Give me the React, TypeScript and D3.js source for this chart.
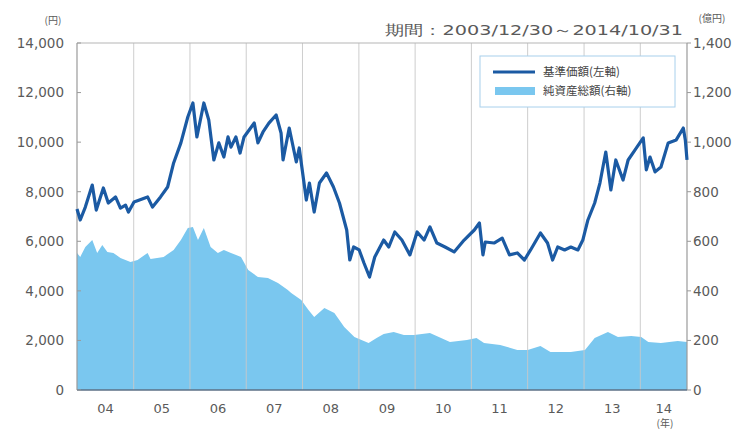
import React from "react";
import * as d3 from "d3";

const navDates = [
  "2003-12-30","2004-01-20","2004-02-22","2004-04-07","2004-05-03","2004-06-18","2004-07-20","2004-09-05","2004-10-07","2004-11-09","2004-11-28",
  "2005-01-03","2005-04-01","2005-05-03","2005-06-24","2005-08-09","2005-09-17","2005-11-03","2005-12-18",
  "2006-01-20","2006-02-15","2006-04-01","2006-05-03","2006-06-05","2006-07-07","2006-08-09","2006-09-05","2006-09-24","2006-10-26","2006-11-22","2006-12-18",
  "2007-01-20","2007-02-22","2007-03-18","2007-04-20","2007-05-28","2007-07-14","2007-08-15","2007-08-28","2007-10-07","2007-11-22","2007-12-11",
  "2008-01-26","2008-02-15","2008-03-17","2008-04-20","2008-06-05","2008-07-20","2008-08-28","2008-10-14","2008-11-03","2008-11-28",
  "2009-01-03","2009-02-03","2009-03-11","2009-04-14","2009-06-11","2009-07-14","2009-08-22","2009-10-07","2009-11-28",
  "2010-01-14","2010-02-28","2010-04-07","2010-05-22","2010-07-14","2010-09-11","2010-11-15",
  "2011-01-20","2011-02-22","2011-03-17","2011-04-01","2011-05-28","2011-07-20","2011-09-05","2011-10-26","2011-12-11",
  "2012-01-20","2012-03-24","2012-05-09","2012-06-11","2012-07-14","2012-08-28","2012-10-07","2012-11-22","2012-12-24",
  "2013-01-26","2013-03-11","2013-04-14","2013-05-22","2013-06-24","2013-07-26","2013-09-11","2013-10-14","2013-11-28",
  "2014-01-20","2014-02-09","2014-03-05","2014-04-07","2014-05-15","2014-07-01","2014-08-22","2014-10-07","2014-10-20","2014-10-31",
];
const navValues = [
  7300,6860,7380,8270,7260,8150,7545,7790,7340,7460,7180,
  7585,7790,7380,7790,8190,9160,9970,11015,
  11580,10210,11580,10895,9280,9970,9400,10210,9800,10210,9560,10210,
  10490,10770,9970,10410,10770,11095,10370,9280,10570,9200,9765,
  7665,8350,7180,8350,8755,8190,7545,6455,5245,5770,
  5650,5125,4560,5365,6050,5770,6375,6050,5450,
  6375,6050,6580,5930,5770,5570,6050,
  6455,6740,5450,5970,5930,6130,5450,5530,5245,
  5650,6335,5930,5245,5770,5650,5770,5650,6050,
  6860,7545,8350,9600,8070,9280,8470,9280,9685,
  10170,8880,9400,8800,9000,9970,10090,10570,10090,9280,
];

const aumDates = [
  "2003-12-30","2004-01-20","2004-02-22","2004-04-07","2004-05-09","2004-06-11","2004-07-14","2004-08-22","2004-10-07","2004-12-11",
  "2005-01-26","2005-04-01","2005-04-20","2005-07-14","2005-09-17","2005-11-03","2005-12-18",
  "2006-01-20","2006-02-22","2006-04-01","2006-05-15","2006-07-01","2006-08-09","2006-09-24","2006-11-28",
  "2007-01-14","2007-03-18","2007-05-22","2007-07-26","2007-09-28","2007-10-20","2007-12-24",
  "2008-02-09","2008-03-17","2008-05-22","2008-07-26","2008-09-28","2008-12-03",
  "2009-03-05","2009-04-26","2009-06-11","2009-08-15","2009-10-20","2009-12-24",
  "2010-04-07","2010-08-15","2010-12-03",
  "2011-02-03","2011-03-24","2011-07-07","2011-10-26",
  "2012-01-01","2012-03-24","2012-05-28","2012-10-07",
  "2013-01-07","2013-03-11","2013-06-05","2013-08-09","2013-11-03",
  "2014-01-07","2014-02-22","2014-05-15","2014-09-01","2014-10-31",
];
const aumValues = [
  553,537,577,605,553,585,557,553,533,516,
  525,553,529,537,565,605,654,
  658,605,654,577,553,565,553,537,
  484,456,452,432,403,391,363,
  323,295,331,311,254,214,
  190,210,226,234,222,222,
  230,194,202,
  210,190,182,161,
  161,178,153,153,
  161,210,234,214,218,
  214,194,190,198,194,
];

const leftTicks = [0, 2000, 4000, 6000, 8000, 10000, 12000, 14000];
const rightTicks = [0, 200, 400, 600, 800, 1000, 1200, 1400];
const yearLabels = ["04","05","06","07","08","09","10","11","12","13","14"];
const periodText = "期間：2003/12/30～2014/10/31";
const legendLabels = ["基準価額(左軸)", "純資産総額(右軸)"];

const W = 735, H = 429;
const X0 = 77, X1 = 687, Y0 = 390, Y1 = 43;
const NAV_COLOR = "#1b5aa3";
const AUM_COLOR = "#7ac7ef";
const NUM_FONT = "'DejaVu Sans', sans-serif";
const JP_FONT = "'Noto Sans CJK JP', sans-serif";
const TEXT_COLOR = "#5a5a5a";

export default function App() {
  const parse = d3.timeParse("%Y-%m-%d");
  const start = parse("2003-12-30") as Date;
  const end = parse("2014-10-31") as Date;
  const x = d3.scaleTime().domain([start, end]).range([X0, X1]);
  const yL = d3.scaleLinear().domain([0, 14000]).range([Y0, Y1]);
  const yR = d3.scaleLinear().domain([0, 1400]).range([Y0, Y1]);

  const nav = navDates.map((d, i) => ({ d: parse(d) as Date, v: navValues[i] }));
  const aum = aumDates.map((d, i) => ({ d: parse(d) as Date, v: aumValues[i] }));

  const line = d3.line<{ d: Date; v: number }>().x((p) => x(p.d)).y((p) => yL(p.v));
  const area = d3.area<{ d: Date; v: number }>().x((p) => x(p.d)).y0(Y0).y1((p) => yR(p.v));

  const yearStarts = d3.range(2005, 2015).map((y) => new Date(y, 0, 1));
  const yearCenters = d3.range(2004, 2015).map((y) => {
    const a = Math.max(+new Date(y, 0, 1), +start);
    const b = Math.min(+new Date(y + 1, 0, 1), +end);
    return x(new Date((a + b) / 2));
  });

  return (
    <svg width={W} height={H} style={{ position: "absolute", left: 0, top: 0, background: "#fff" }}>
      <path d={area(aum) || ""} fill={AUM_COLOR} />
      {yearStarts.map((d, i) => (
        <line key={i} x1={x(d)} x2={x(d)} y1={Y1} y2={Y0} stroke="#c9c9c9" strokeWidth={1} opacity={0.9} />
      ))}
      <line x1={X0} x2={X1} y1={Y1} y2={Y1} stroke="#b5b5b5" strokeWidth={1} />
      <line x1={X0} x2={X0} y1={Y1} y2={Y0} stroke="#9a9a9a" strokeWidth={1.2} />
      <line x1={X1} x2={X1} y1={Y1} y2={Y0} stroke="#9a9a9a" strokeWidth={1.2} />
      <path d={line(nav) || ""} fill="none" stroke={NAV_COLOR} strokeWidth={3.2} strokeLinejoin="round" />
      <line x1={X0} x2={X1} y1={Y0} y2={Y0} stroke="#5d7186" strokeWidth={1.5} />

      {leftTicks.map((t) => (
        <g key={t}>
          <line x1={X0} x2={X0 + 4} y1={yL(t)} y2={yL(t)} stroke="#9a9a9a" />
          <text x={64} y={yL(t)} dy="0.36em" textAnchor="end" fontFamily={NUM_FONT} fontSize={13.5} fill={TEXT_COLOR}>
            {d3.format(",")(t)}
          </text>
        </g>
      ))}
      {rightTicks.map((t) => (
        <g key={t}>
          <line x1={X1} x2={X1 + 4} y1={yR(t)} y2={yR(t)} stroke="#9a9a9a" />
          <text x={693} y={yR(t)} dy="0.36em" textAnchor="start" fontFamily={NUM_FONT} fontSize={13.5} fill={TEXT_COLOR}>
            {d3.format(",")(t)}
          </text>
        </g>
      ))}
      {yearLabels.map((l, i) => (
        <text key={l} x={yearCenters[i]} y={408} dy="0.36em" textAnchor="middle" fontFamily={NUM_FONT} fontSize={13} fill={TEXT_COLOR}>
          {l}
        </text>
      ))}
      <text x={665} y={423} dy="0.36em" textAnchor="middle" fontFamily={JP_FONT} fontSize={10} fill={TEXT_COLOR}>(年)</text>
      <text x={53} y={20} dy="0.36em" textAnchor="middle" fontFamily={JP_FONT} fontSize={10} fill={TEXT_COLOR}>(円)</text>
      <text x={712} y={18} dy="0.36em" textAnchor="middle" fontFamily={JP_FONT} fontSize={10} fill={TEXT_COLOR}>(億円)</text>
      <text x={683} y={30} dy="0.36em" textAnchor="end" fontFamily={NUM_FONT} fontSize={14} fill={TEXT_COLOR}
        textLength={298} lengthAdjust="spacingAndGlyphs">
        {periodText}
      </text>

      <rect x={480} y={56} width={195} height={51} fill="#fff" stroke="#a8d0ec" strokeWidth={1} />
      <line x1={493} x2={535} y1={72} y2={72} stroke={NAV_COLOR} strokeWidth={2.8} />
      <rect x={495} y={87} width={40} height={8} fill={AUM_COLOR} />
      <text x={543} y={72} dy="0.36em" fontFamily={JP_FONT} fontSize={11.5} fill="#444">{legendLabels[0]}</text>
      <text x={543} y={91} dy="0.36em" fontFamily={JP_FONT} fontSize={11.5} fill="#444">{legendLabels[1]}</text>
    </svg>
  );
}
